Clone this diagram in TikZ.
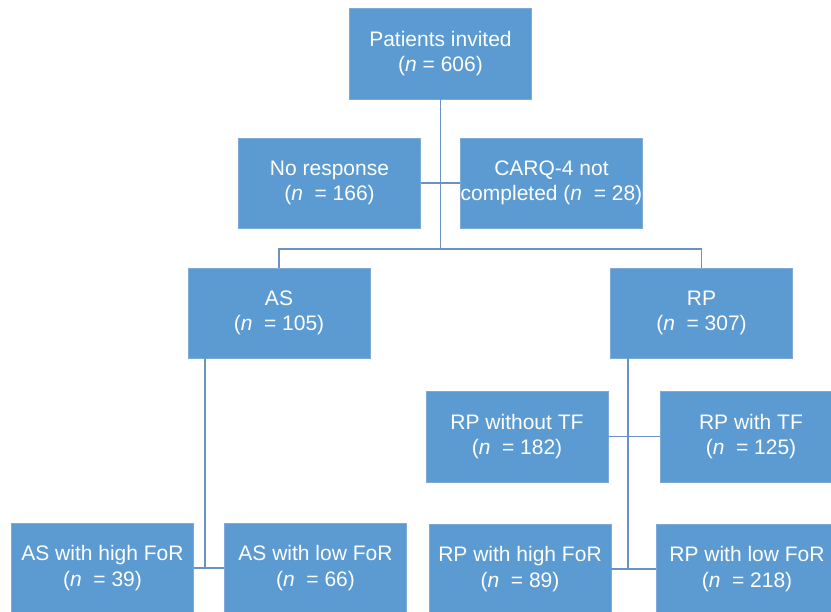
\documentclass[tikz,border=0pt]{standalone}
\usepackage{fontspec}
\setmainfont{Liberation Sans}
\definecolor{boxfill}{HTML}{5B9BD2}
\definecolor{boxline}{HTML}{7FA9D8}
\definecolor{conn}{HTML}{6A93C4}
\begin{document}
\begin{tikzpicture}[x=1pt,y=-1pt,
  box/.style={draw=boxline, line width=0.8pt, fill=boxfill, text=white, align=center,
    minimum width=182pt, minimum height=90pt, inner sep=0pt,
    font=\fontsize{21}{25.5}\selectfont},
  link/.style={draw=conn, line width=1.2pt}]
\useasboundingbox (0,0) rectangle (831,612);
\clip (0,0) rectangle (831,612);
\node[box, minimum height=91pt] (inv) at (440.5,53.5) {Patients invited\\(\textit{n} = 606)};
\node[box] (nor) at (329.5,183) {No response\\(\textit{n}\ \ = 166)};
\node[box] (carq) at (551.5,183) {CARQ-4 not\\completed (\textit{n}\ \ = 28)};
\node[box] (as) at (279,313) {AS\\(\textit{n}\ \ = 105)};
\node[box] (rp) at (701.5,313) {RP\\(\textit{n}\ \ = 307)};
\node[box, minimum height=91pt] (rpwo) at (517,436.5) {RP without TF\\(\textit{n}\ \ = 182)};
\node[box, minimum height=91pt] (rpw) at (751,436.5) {RP with TF\\(\textit{n}\ \ = 125)};
\node[box] (ash) at (102.5,568) {AS with high FoR\\(\textit{n}\ \ = 39)};
\node[box] (asl) at (315.5,568) {AS with low FoR\\(\textit{n}\ \ = 66)};
\node[box] (rph) at (520,569) {RP with high FoR\\(\textit{n}\ \ = 89)};
\node[box] (rpl) at (747,569) {RP with low FoR\\(\textit{n}\ \ = 218)};
% connectors
\coordinate (split) at (inv.south |- 0,249);
\coordinate (asv) at (205,358);
\coordinate (asb) at (205,568);
\coordinate (rpv) at (628,358);
\coordinate (rpb) at (628,569);
\draw[link] (inv.south) -- (split);
\draw[link] (nor.east) -- (carq.west);
\draw[link] (as.north) -- (as.north |- split) -- (rp.north |- split) -- (rp.north);
\draw[link] (asv) -- (asb);
\draw[link] (ash.east) -- (asl.west);
\draw[link] (rpv) -- (rpb);
\draw[link] (rpwo.east) -- (rpw.west);
\draw[link] (rph.east) -- (rpl.west);
\end{tikzpicture}
\end{document}
